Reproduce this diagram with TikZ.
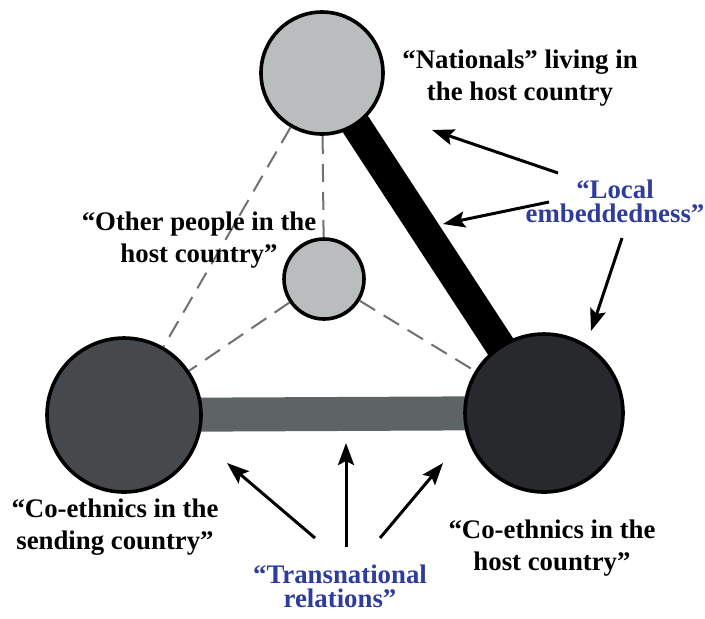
\documentclass[tikz,border=0pt]{standalone}
\usepackage{fontspec}
\setmainfont{Liberation Serif}
\usepackage{tikz}
\usetikzlibrary{arrows.meta,backgrounds}
\definecolor{lightdot}{HTML}{B9BDBE}
\definecolor{darkdot}{HTML}{45494C}
\definecolor{darkerdot}{HTML}{27292C}
\definecolor{tiegray}{HTML}{5E6463}
\definecolor{weakgray}{HTML}{707070}
\definecolor{labelblue}{HTML}{2E3C9C}

\begin{document}
\begin{tikzpicture}[x=0.5pt, y=-0.5pt,
  dot/.style={circle, draw=black, line width=1.8pt, inner sep=0pt},
  weak/.style={draw=weakgray, line width=1pt, dash pattern=on 9pt off 5pt},
  lbl/.style={font=\rmfamily\bfseries\fontsize{13.4}{16}\selectfont, align=center, inner sep=0pt},
  keylbl/.style={lbl, text=labelblue, font=\rmfamily\bfseries\fontsize{13.4}{12}\selectfont},
  pointer/.style={line width=1.5pt, -{Stealth[length=11pt,width=8pt,inset=2pt]}}]

\useasboundingbox (0,0) rectangle (705,618);

% actors
\node [dot, fill=lightdot, minimum size=61pt] (nat) at (322,73) {};
\node [dot, fill=lightdot, minimum size=40pt] (other) at (324,279) {};
\node [dot, fill=darkdot, minimum size=77pt] (send) at (124,415) {};
\node [dot, fill=darkerdot, minimum size=79pt] (host) at (544,413) {};

% ties
\begin{scope}[on background layer]
\draw [line width=15pt, black] (nat.center) -- (host.center);
\draw [line width=17pt, tiegray] (send.center) -- (host.center);
\end{scope}
\draw [weak] (nat) -- (send);
\draw [weak] (nat) -- (other);
\draw [weak] (other) -- (send);
\draw [weak] (other) -- (host);

% labels
\node [lbl] (natlbl) at (520,78) {“Nationals” living in\\the host country};
\node [lbl] (otherlbl) at (199,240) {“Other people in the\\host country”};
\node [lbl] (sendlbl) at (115,527) {“Co-ethnics in the\\sending country”};
\node [lbl] (hostlbl) at (552,548) {“Co-ethnics in the\\host country”};
\node [keylbl] (locallbl) at (615,201) {“Local\\embeddedness”};
\node [keylbl] (translbl) at (340,586) {“Transnational\\relations”};

% pointers
\coordinate (l1) at (558,173); \coordinate (l1t) at (432,130);
\coordinate (l2) at (549,202); \coordinate (l2t) at (443,224);
\coordinate (l3) at (622,238); \coordinate (l3t) at (591,331);
\coordinate (t1) at (315,538); \coordinate (t1t) at (227,463);
\coordinate (t2) at (346,547); \coordinate (t2t) at (346,443);
\coordinate (t3) at (380,538); \coordinate (t3t) at (443,463);
\draw [pointer] (l1) -- (l1t);
\draw [pointer] (l2) -- (l2t);
\draw [pointer] (l3) -- (l3t);
\draw [pointer] (t1) -- (t1t);
\draw [pointer] (t2) -- (t2t);
\draw [pointer] (t3) -- (t3t);
\end{tikzpicture}
\end{document}
